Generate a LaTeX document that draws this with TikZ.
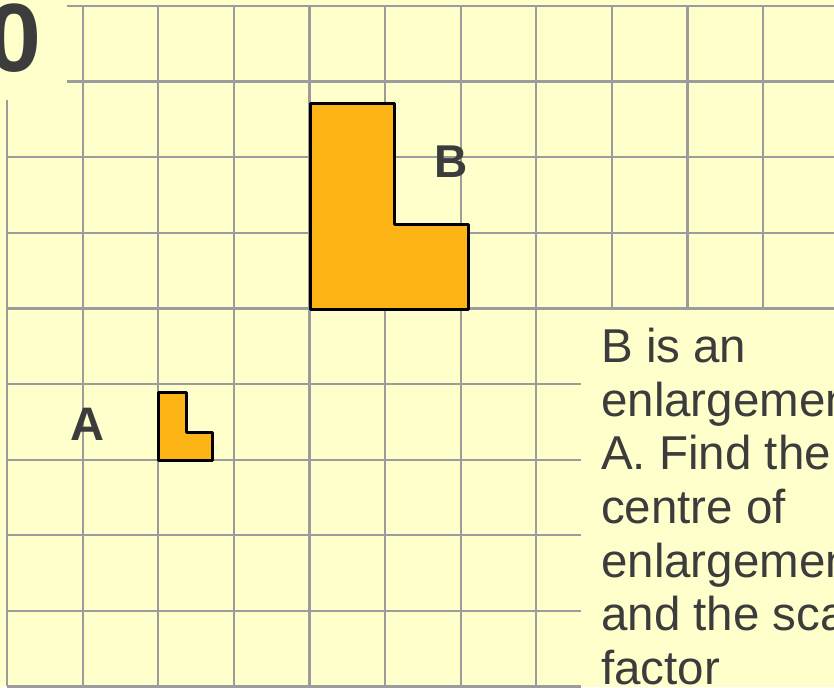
\documentclass[tikz,border=0pt]{standalone}
\usepackage{fontspec}
\setmainfont{Liberation Sans}
\usepackage{tikz}
\usetikzlibrary{calc}
\definecolor{paper}{HTML}{FFFFCC}
\definecolor{gridgray}{HTML}{9C9C9C}
\definecolor{shapefill}{HTML}{FDB515}
\definecolor{inkgray}{HTML}{3C3C3C}

\begin{document}
\begin{tikzpicture}[x=1pt,y=-1pt]
      \tikzset{gridline/.style = {draw=gridgray, line width=2.2pt}}
      \tikzset{lshape/.style = {draw=black, line width=3pt, fill=shapefill, line join=round}}
      \tikzset{label/.style = {text=inkgray, font=\bfseries, inner sep=0pt}}
      \tikzset{qtext/.style = {text=inkgray, align=left, inner sep=0pt,
          font=\fontsize{47.5}{53.6}\selectfont}}
      \useasboundingbox (0,0) rectangle (834,687);
      \clip (0,0) rectangle (834,687);
      \fill[paper] (0,0) rectangle (834,687);
      % horizontal grid lines
      \draw[gridline] (67,6) -- (834,6);
      \draw[gridline] (67,81.6) -- (834,81.6);
      \draw[gridline] (7,157.2) -- (834,157.2);
      \draw[gridline] (7,232.8) -- (834,232.8);
      \draw[gridline] (7,308.4) -- (834,308.4);
      \draw[gridline] (7,384) -- (581,384);
      \draw[gridline] (7,459.6) -- (581,459.6);
      \draw[gridline] (7,535.2) -- (581,535.2);
      \draw[gridline] (7,610.8) -- (581,610.8);
      \draw[gridline] (7,686.4) -- (581,686.4);
      % vertical grid lines
      \draw[gridline] (7,100) -- (7,686.4);
      \draw[gridline] (82.6,6) -- (82.6,686.4);
      \draw[gridline] (158.2,6) -- (158.2,686.4);
      \draw[gridline] (233.8,6) -- (233.8,686.4);
      \draw[gridline] (309.4,6) -- (309.4,686.4);
      \draw[gridline] (385,6) -- (385,686.4);
      \draw[gridline] (460.6,6) -- (460.6,686.4);
      \draw[gridline] (536.2,6) -- (536.2,686.4);
      \draw[gridline] (611.8,6) -- (611.8,308.4);
      \draw[gridline] (687.4,6) -- (687.4,308.4);
      \draw[gridline] (763,6) -- (763,308.4);
      % shapes A and B
      \draw[lshape] (158,392) -- (186,392) -- (186,432) -- (212,432)
          -- (212,460) -- (158,460) -- cycle;
      \draw[lshape] (310,104) -- (394,104) -- (394,224) -- (468,224)
          -- (468,309) -- (310,309) -- cycle;
      \node[label, font=\fontsize{97}{97}\selectfont\bfseries, anchor=base east] (num) at (42,72) {0};
      \node[label, font=\fontsize{46}{46}\selectfont\bfseries] (labB) at (451,162) {B};
      \node[label, font=\fontsize{47}{47}\selectfont\bfseries] (labA) at (87.5,424) {A};
      \node[qtext, anchor=north west] (question) at (601,328)
          {B is an\\enlargement of\\A. Find the\\centre of\\enlargement\\and the scale\\factor};
\end{tikzpicture}
\end{document}
